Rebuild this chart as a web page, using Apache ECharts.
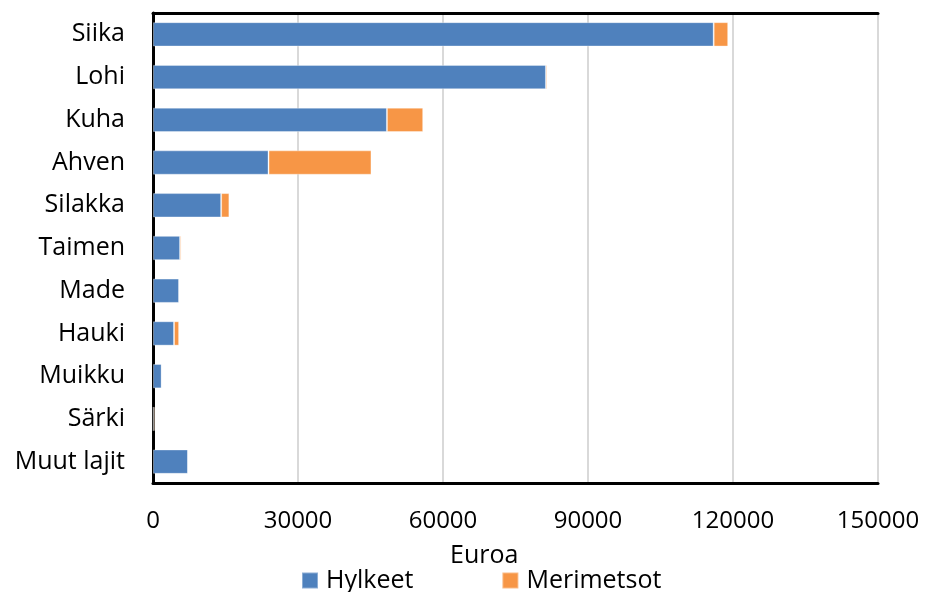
<!DOCTYPE html>
<html>
<head>
<meta charset="utf-8">
<script src="https://cdn.jsdelivr.net/npm/echarts@6/dist/echarts.min.js"></script>
<style>html,body{margin:0;padding:0;background:#fff}#c{width:925px;height:592px}</style>
</head>
<body>
<div id="c"></div>
<script>
const categories = ["Siika","Lohi","Kuha","Ahven","Silakka","Taimen","Made","Hauki","Muikku","Särki","Muut lajit"];
const hylkeet = [116000, 81300, 48400, 23900, 14100, 5600, 5400, 4350, 1800, 100, 7250];
const merimetsot = [3000, 300, 7500, 21300, 1700, 300, 50, 1050, 0, 250, 0];
const xTicks = { min: 0, max: 150000, interval: 30000 };

const font = "'Open Sans', sans-serif";
const chart = echarts.init(document.getElementById('c'));
const frame = { show: true, lineStyle: { color: '#000', width: 3 } };
chart.setOption({
  animation: false,
  title: {
    text: 'Euroa', left: 445, top: 538,
    textStyle: { fontFamily: font, fontSize: 25, fontWeight: 'normal', color: '#000' }
  },
  legend: {
    left: 296, top: 563, itemWidth: 16, itemHeight: 16, itemGap: 88,
    icon: 'rect',
    textStyle: { fontFamily: font, fontSize: 25, color: '#000', padding: [0, 0, 0, 3] },
    data: ['Hylkeet', 'Merimetsot']
  },
  grid: {
    left: 153, right: 47, top: 13, bottom: 109, show: false
  },
  xAxis: [{
    type: 'value', min: xTicks.min, max: xTicks.max, interval: xTicks.interval,
    position: 'bottom',
    axisLine: frame, axisTick: { show: false },
    splitLine: { show: true, lineStyle: { color: '#d9d9d9', width: 2 } },
    axisLabel: { fontFamily: font, fontSize: 24, color: '#000', margin: 26,
      formatter: v => String(v) }
  }, {
    type: 'value', min: xTicks.min, max: xTicks.max, interval: xTicks.interval,
    position: 'top',
    axisLine: frame, axisTick: { show: false }, splitLine: { show: false },
    axisLabel: { show: false }
  }],
  yAxis: [{
    type: 'category', data: categories, inverse: true, position: 'left',
    axisLine: { show: true, lineStyle: { color: '#8c8c8c', width: 2 } },
    axisTick: { show: false },
    axisLabel: { fontFamily: font, fontSize: 25, color: '#000', margin: 28 }
  }, {
    type: 'category', data: categories, inverse: true, position: 'right',
    axisLine: frame, axisTick: { show: false }, axisLabel: { show: false }
  }],
  series: [
    { name: 'Hylkeet', type: 'bar', stack: 'a', data: hylkeet, barWidth: '57%',
      itemStyle: { color: '#4F81BD', borderColor: 'rgba(255,255,255,0.35)', borderWidth: 1 } },
    { name: 'Merimetsot', type: 'bar', stack: 'a', data: merimetsot, barWidth: '57%',
      itemStyle: { color: '#F79646', borderColor: 'rgba(255,255,255,0.35)', borderWidth: 1 } }
  ]
});
</script>
</body>
</html>
